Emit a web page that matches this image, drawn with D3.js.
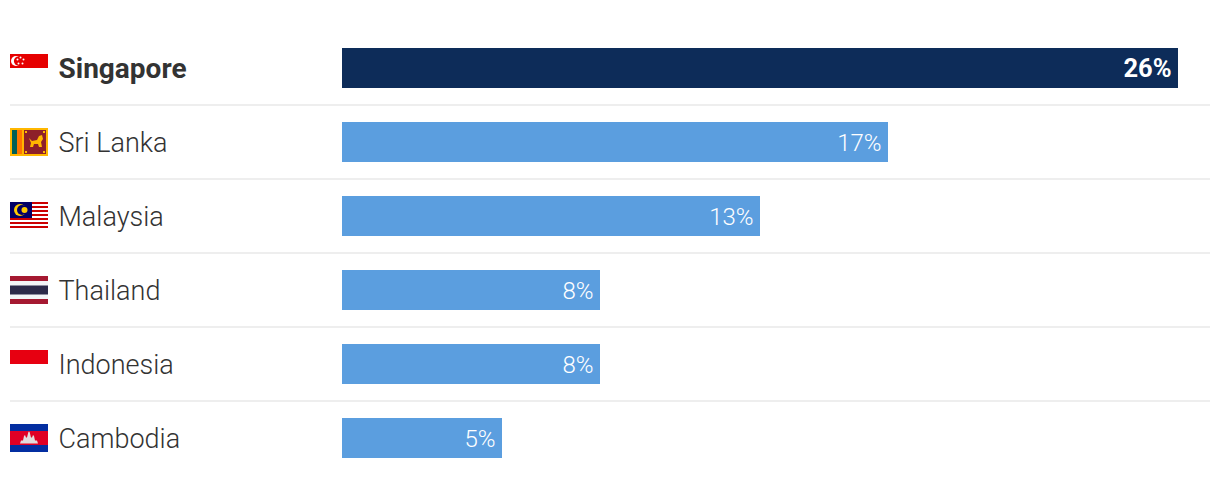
<!DOCTYPE html>
<html>
<head>
<meta charset="utf-8">
<script src="https://cdn.jsdelivr.net/npm/d3@7"></script>
<style>
body { margin: 0; background: #fff; }
text { font-family: Roboto, sans-serif; }
</style>
</head>
<body>
<div id="vis"></div>
<script>
var countries = ["Singapore", "Sri Lanka", "Malaysia", "Thailand", "Indonesia", "Cambodia"];
var shares = [26, 16.98, 13, 8.02, 8.02, 4.98];
var shareLabels = ["26%", "17%", "13%", "8%", "8%", "5%"];
var highlighted = ["Singapore"];

var width = 1220;
var height = 484;

var svg = d3.select("#vis")
    .append("svg")
    .attr("width", width)
    .attr("height", height)
    .style("display", "block");

var xscale = d3.scaleLinear()
    .domain([0, 26])
    .range([342, 1178]);

var yscale = d3.scaleBand()
    .domain(countries)
    .range([31, 475])
    .paddingInner(34 / 74)
    .paddingOuter(17 / 74);

var rows = countries.map(function(c, i) {
    return { name: c, value: shares[i], label: shareLabels[i] };
});

function isHi(d) { return highlighted.indexOf(d.name) >= 0; }
function mid(d) { return yscale(d.name) + yscale.bandwidth() / 2; }

// dividers between rows
svg.selectAll(".divider")
    .data(countries.slice(1))
    .enter()
    .append("line")
    .attr("class", "divider")
    .attr("x1", 10)
    .attr("x2", 1210)
    .attr("y1", function(d) { return yscale(d) - 17; })
    .attr("y2", function(d) { return yscale(d) - 17; })
    .attr("stroke", "#eeeeee")
    .attr("stroke-width", 2);

// bars
svg.selectAll(".bar")
    .data(rows)
    .enter()
    .append("rect")
    .attr("class", "bar")
    .attr("x", xscale(0))
    .attr("y", function(d) { return yscale(d.name); })
    .attr("width", function(d) { return Math.round(xscale(d.value) - xscale(0)); })
    .attr("height", yscale.bandwidth())
    .attr("fill", function(d) { return isHi(d) ? "#0d2c59" : "#5b9edf"; });

// value labels inside the bars
svg.selectAll(".value")
    .data(rows)
    .enter()
    .append("text")
    .attr("class", "value")
    .attr("x", function(d) { return Math.round(xscale(d.value)) - 6.5; })
    .attr("y", function(d) { return mid(d) + 8.5; })
    .attr("text-anchor", "end")
    .attr("fill", "#fff")
    .style("font-size", function(d) { return isHi(d) ? "25.5px" : "24px"; })
    .style("font-weight", function(d) { return isHi(d) ? 700 : 300; })
    .text(function(d) { return d.label; });

// country names
svg.selectAll(".name")
    .data(rows)
    .enter()
    .append("text")
    .attr("class", "name")
    .attr("x", 58.5)
    .attr("y", function(d) { return mid(d) + 10; })
    .attr("fill", "#333333")
    .style("font-size", function(d) { return isHi(d) ? "28px" : "27px"; })
    .style("font-weight", function(d) { return isHi(d) ? 700 : 300; })
    .text(function(d) { return d.name; });

// flags, each in a local 38 wide box
function box(g, x, y, w, h, fill) {
    g.append("rect").attr("x", x).attr("y", y).attr("width", w).attr("height", h).attr("fill", fill);
}

var flags = {
    "Singapore": function(g) {
        box(g, 0, 0, 38, 14, "#e60000");
        g.append("circle").attr("cx", 6).attr("cy", 7).attr("r", 5).attr("fill", "#fff");
        g.append("circle").attr("cx", 8.5).attr("cy", 7).attr("r", 4.6).attr("fill", "#e60000");
        g.selectAll(".star")
            .data([[10.5, 3.5], [13.5, 5.5], [12.5, 9.5], [8.5, 9.5], [7.5, 5.5]])
            .enter().append("circle")
            .attr("cx", function(d) { return d[0]; })
            .attr("cy", function(d) { return d[1]; })
            .attr("r", 1)
            .attr("fill", "#fff");
    },
    "Sri Lanka": function(g) {
        box(g, 0, 0, 38, 28, "#ffb700");
        box(g, 2, 2, 5, 24, "#005f56");
        box(g, 7, 2, 5, 24, "#ff7500");
        box(g, 14, 2, 22, 24, "#8d2029");
        // lion
        g.append("path")
            .attr("d", "M19 10 L22 13 L27 12 L29 8 L32 7 L33 11 L31 14 L32 19 L29 19 L28 16 L24 16 L23 19 L20 19 L21 15 Z")
            .attr("fill", "#ffb700");
        box(g, 15, 3, 2, 2, "#ffb700");
        box(g, 33, 3, 2, 2, "#ffb700");
        box(g, 15, 23, 2, 2, "#ffb700");
        box(g, 33, 23, 2, 2, "#ffb700");
    },
    "Malaysia": function(g) {
        box(g, 0, 0, 38, 28, "#fff");
        g.selectAll(".stripe")
            .data([0, 4, 8, 12, 16, 20, 24])
            .enter().append("rect")
            .attr("x", 0)
            .attr("y", function(d) { return d; })
            .attr("width", 38)
            .attr("height", 2)
            .attr("fill", "#cc0001");
        box(g, 0, 0, 22, 16, "#010066");
        g.append("circle").attr("cx", 10).attr("cy", 8).attr("r", 6).attr("fill", "#ffcc00");
        g.append("circle").attr("cx", 12).attr("cy", 8).attr("r", 5).attr("fill", "#010066");
        g.append("circle").attr("cx", 14.5).attr("cy", 8).attr("r", 3).attr("fill", "#ffcc00");
    },
    "Thailand": function(g) {
        box(g, 0, 0, 38, 28, "#a51931");
        box(g, 0, 5, 38, 18, "#f4f5f8");
        box(g, 0, 9.5, 38, 9, "#2d2a4a");
    },
    "Indonesia": function(g) {
        box(g, 0, 0, 38, 14, "#e70011");
    },
    "Cambodia": function(g) {
        box(g, 0, 0, 38, 28, "#032ea1");
        box(g, 0, 7, 38, 14, "#e00025");
        // Angkor Wat
        g.append("path")
            .attr("d", "M10 19.5 L28 19.5 L27 16.5 L25 16.5 L24 12 L23 11 L22 13.5 L21 13.5 L19.6 8 L19 7.5 L18.4 8 L17 13.5 L16 13.5 L15 11 L14 12 L13 16.5 L11 16.5 Z")
            .attr("fill", "#e3dcdc");
    }
};

// Singapore and Indonesia only fill the top half of the box
svg.selectAll(".flag")
    .data(rows)
    .enter()
    .append("g")
    .attr("class", "flag")
    .attr("transform", function(d) { return "translate(10," + (mid(d) - 14) + ")"; })
    .each(function(d) { flags[d.name](d3.select(this)); });
</script>
</body>
</html>
